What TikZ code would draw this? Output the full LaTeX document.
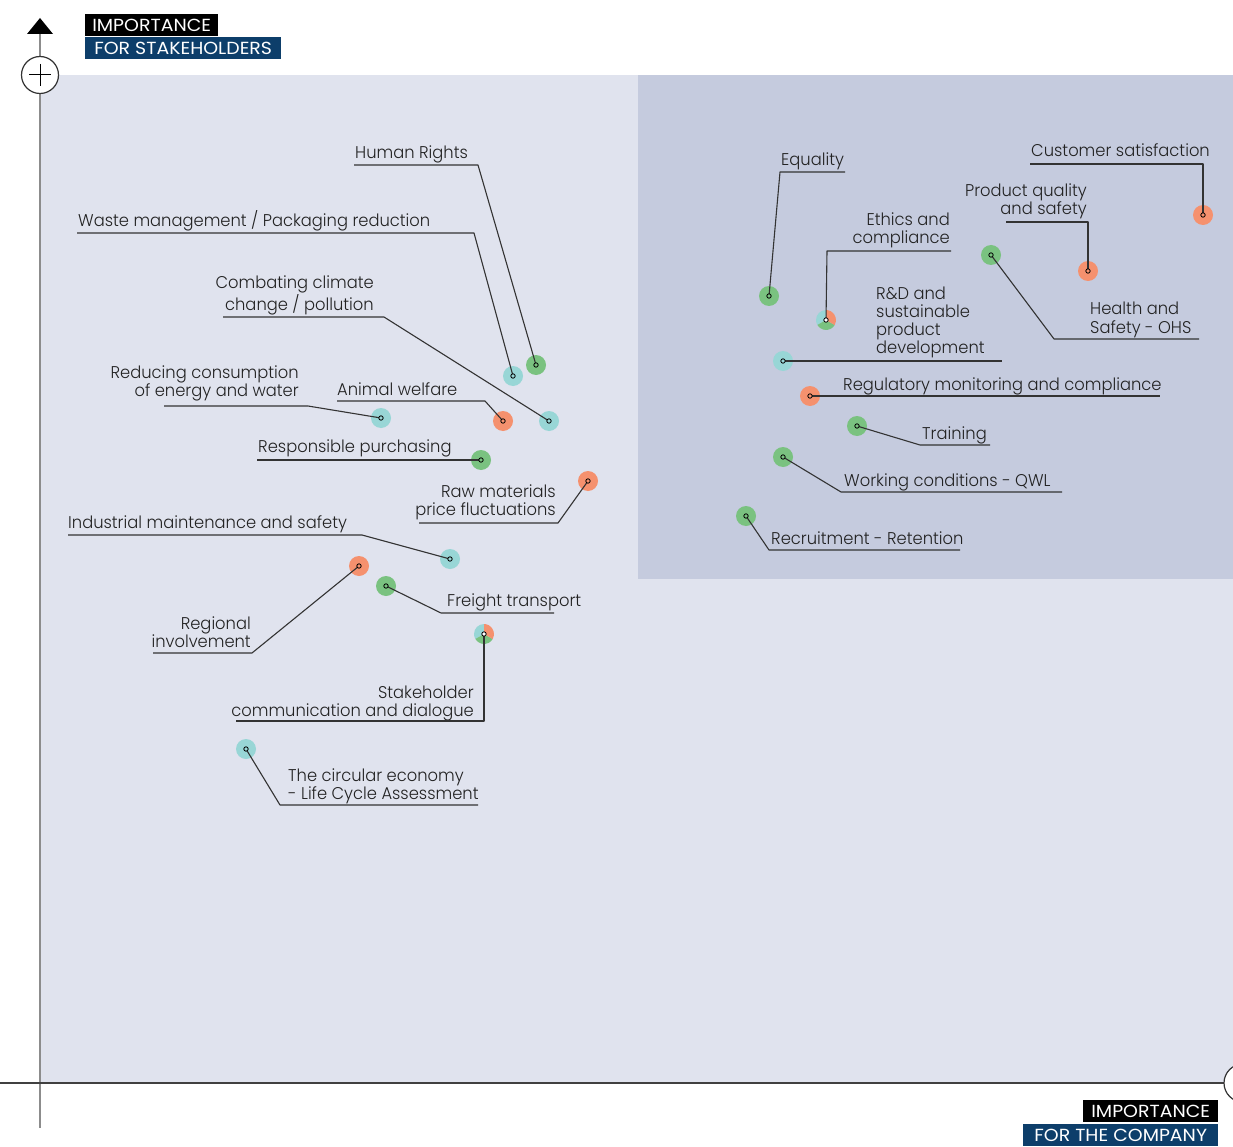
\documentclass[tikz,border=0pt]{standalone}
\usepackage{fontspec}
\IfFontExistsTF{Poppins Light}{\setmainfont{Poppins Light}[FakeStretch=0.96]}{\setmainfont{Poppins}[FakeStretch=0.92]}
\newfontfamily\hdrfam{Poppins}[FakeStretch=1.08]
\newcommand\lblfont{\fontsize{17}{18}\selectfont}
\newcommand\hdrfont{\hdrfam\fontsize{17.5}{18}\selectfont}
\definecolor{bglight}{HTML}{E0E3EE}
\definecolor{bgdark}{HTML}{C5CBDE}
\definecolor{navy}{HTML}{0D3E6A}
\definecolor{dgreen}{HTML}{7AC280}
\definecolor{dteal}{HTML}{98D6D6}
\definecolor{dorange}{HTML}{F5916E}
\definecolor{txt}{HTML}{222222}
\definecolor{lead}{HTML}{333333}
\begin{document}
\begin{tikzpicture}[x=1pt,y=-1pt,
  lbl/.style={font=\lblfont, text=txt, inner sep=0pt},
  dotst/.style={circle, minimum size=20pt, inner sep=0pt, fill=#1},
  leadst/.style={draw=lead, line width=1.1pt, line join=round},
  ringst/.style={draw=black, line width=0.8pt},
  hdr/.style={font=\hdrfont, text=white, inner sep=0pt, minimum height=22pt, anchor=north west}]
\useasboundingbox (0,0) rectangle (1233,1147);
% backgrounds
\fill[bglight] (40,75) rectangle (1233,1083);
\fill[bgdark] (638,75) rectangle (1233,579);
% axes
\draw[draw=black!45, line width=2pt] (40,30) -- (40,1128);
\draw[draw=black!75, line width=1.2pt] (0,1083) -- (1233,1083);
\fill[black] (40,18) -- (53,34) -- (27,34) -- cycle;
\node[circle, draw=black!80, line width=1.2pt, fill=white, minimum size=37pt, inner sep=0pt] (plusc) at (40,75) {};
\draw[black, line width=1pt] (29,75) -- (51,75) (40,64) -- (40,86);
\node[circle, draw=black!80, line width=1.2pt, fill=white, minimum size=38pt, inner sep=0pt] (rightc) at (1243,1083) {};
% headers
\node[hdr, fill=black, minimum width=133pt] (h1) at (85,14) {IMPORTANCE};
\node[hdr, fill=navy, minimum width=196pt] (h2) at (85,37) {FOR STAKEHOLDERS};
\node[hdr, fill=black, minimum width=135pt] (h3) at (1083,1100) {IMPORTANCE};
\node[hdr, fill=navy, minimum width=195pt] (h4) at (1023,1124) {FOR THE COMPANY};

% dots
\node[dotst=dgreen] (hr) at (536,365) {};
\node[dotst=dteal] (wm) at (513,376) {};
\node[dotst=dteal] (cc) at (549,421) {};
\node[dotst=dteal] (rc) at (381,418) {};
\node[dotst=dorange] (aw) at (503,421) {};
\node[dotst=dgreen] (rp) at (481,460) {};
\node[dotst=dorange] (rm) at (588,481) {};
\node[dotst=dteal] (im) at (450,559) {};
\node[dotst=dorange] (ri) at (359,566) {};
\node[dotst=dgreen] (ft) at (386,586) {};
\coordinate (sc) at (484,634);
\node[dotst=dteal] (ce) at (246,749) {};
\node[dotst=dgreen] (eq) at (769,296) {};
\node[dotst=dorange] (cs) at (1203,215) {};
\node[dotst=dorange] (pq) at (1088,271) {};
\coordinate (ec) at (826,320);
\node[dotst=dgreen] (hs) at (991,255) {};
\node[dotst=dteal] (rd) at (783,361) {};
\node[dotst=dorange] (rg) at (810,396) {};
\node[dotst=dgreen] (tr) at (857,426) {};
\node[dotst=dgreen] (wc) at (783,457) {};
\node[dotst=dgreen] (rr) at (746,516) {};
% tri-colour dots (y axis flipped: tikz angle = -page angle)
\foreach \c in {sc,ec}{
  \fill[dteal] (\c) -- ++(-90:10) arc (-90:-210:10) -- cycle;
  \fill[dgreen] (\c) -- ++(-210:10) arc (-210:-330:10) -- cycle;
  \fill[dorange] (\c) -- ++(-330:10) arc (-330:-450:10) -- cycle;
}

% labels
\node[lbl, anchor=base west] (hrL) at (355,159) {Human Rights};
\node[lbl, anchor=base west] (wmL) at (78,227) {Waste management / Packaging reduction};
\node[lbl, anchor=base east, align=right] (ccL) at (374,310) {Combating climate\\change / pollution};
\node[lbl, anchor=base east, align=right] (rcL) at (299,396) {Reducing consumption\\of energy and water};
\node[lbl, anchor=base west] (awL) at (337,395) {Animal welfare};
\node[lbl, anchor=base west] (rpL) at (258,452) {Responsible purchasing};
\node[lbl, anchor=base east, align=right] (rmL) at (556,515) {Raw materials\\price fluctuations};
\node[lbl, anchor=base west] (imL) at (68,528) {Industrial maintenance and safety};
\node[lbl, anchor=base east, align=right] (riL) at (251,647) {Regional\\involvement};
\node[lbl, anchor=base west] (ftL) at (447,606) {Freight transport};
\node[lbl, anchor=base east, align=right] (scL) at (474,716) {Stakeholder\\communication and dialogue};
\node[lbl, anchor=base west, align=left] (ceL) at (288,799) {The circular economy\\- Life Cycle Assessment};
\node[lbl, anchor=base west] (eqL) at (781,166) {Equality};
\node[lbl, anchor=base west] (csL) at (1031,157) {Customer satisfaction};
\node[lbl, anchor=base east, align=right] (pqL) at (1087,215) {Product quality\\and safety};
\node[lbl, anchor=base east, align=right] (ecL) at (950,244) {Ethics and\\compliance};
\node[lbl, anchor=base west, align=left] (hsL) at (1090,333) {Health and\\Safety - OHS};
\node[lbl, anchor=base west, align=left] (rdL) at (876,353) {R\&D and\\sustainable\\product\\development};
\node[lbl, anchor=base west] (rgL) at (843,390) {Regulatory monitoring and compliance};
\node[lbl, anchor=base west] (trL) at (922,439) {Training};
\node[lbl, anchor=base west] (wcL) at (844,486) {Working conditions - QWL};
\node[lbl, anchor=base west] (rrL) at (771,544) {Recruitment - Retention};

% leader coordinates
\coordinate (hr-b) at (478,165); \coordinate (hr-e) at (354,165);
\coordinate (wm-b) at (474,233); \coordinate (wm-e) at (77,233);
\coordinate (cc-b) at (384,317); \coordinate (cc-e) at (223,317);
\coordinate (rc-b) at (308,406); \coordinate (rc-e) at (164,406);
\coordinate (aw-b) at (485,401); \coordinate (aw-e) at (337,401);
\coordinate (rp-e) at (257,460);
\coordinate (rm-b) at (558,523); \coordinate (rm-e) at (419,523);
\coordinate (im-b) at (362,535); \coordinate (im-e) at (68,535);
\coordinate (ri-b) at (252,653); \coordinate (ri-e) at (153,653);
\coordinate (ft-b) at (441,613); \coordinate (ft-e) at (554,613);
\coordinate (sc-b) at (484,721); \coordinate (sc-e) at (236,721);
\coordinate (ce-b) at (280,805); \coordinate (ce-e) at (478,805);
\coordinate (eq-b) at (780,172); \coordinate (eq-e) at (845,172);
\coordinate (cs-b) at (1203,164); \coordinate (cs-e) at (1030,164);
\coordinate (pq-b) at (1088,222); \coordinate (pq-e) at (1006,222);
\coordinate (ec-b) at (827,251); \coordinate (ec-e) at (951,251);
\coordinate (hs-b) at (1054,339); \coordinate (hs-e) at (1199,339);
\coordinate (rd-e) at (1002,361);
\coordinate (rg-e) at (1160,396);
\coordinate (tr-b) at (920,445); \coordinate (tr-e) at (990,445);
\coordinate (wc-b) at (841,492); \coordinate (wc-e) at (1062,492);
\coordinate (rr-b) at (769,550); \coordinate (rr-e) at (960,550);

% leaders
\foreach \n in {hr,wm,cc,rc,aw,rm,im,ri,ft,sc,ce,eq,cs,pq,ec,hs,tr,wc,rr}{
  \draw[leadst] (\n.center) -- (\n-b) -- (\n-e);
}
\foreach \n in {rp,rd,rg}{
  \draw[leadst] (\n.center) -- (\n-e);
}
% centre rings
\foreach \n/\col in {hr/dgreen,wm/dteal,cc/dteal,rc/dteal,aw/dorange,rp/dgreen,rm/dorange,im/dteal,ri/dorange,ft/dgreen,ce/dteal,eq/dgreen,cs/dorange,pq/dorange,hs/dgreen,rd/dteal,rg/dorange,tr/dgreen,wc/dgreen,rr/dgreen,sc/white,ec/white}{
  \draw[ringst, fill=\col] (\n.center) circle (2.2);
}
\end{tikzpicture}
\end{document}
